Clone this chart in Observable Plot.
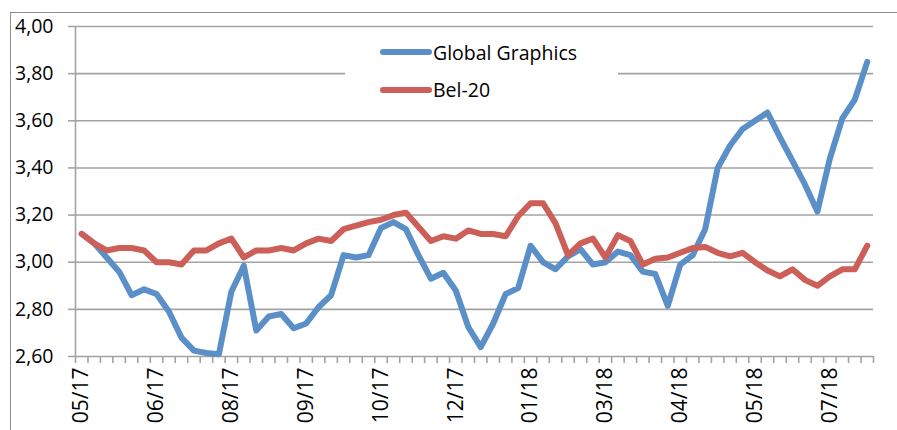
<!DOCTYPE html>
<html>
<head>
<meta charset="utf-8">
<script src="https://cdn.jsdelivr.net/npm/d3@7"></script>
<script src="https://cdn.jsdelivr.net/npm/@observablehq/plot@0.6"></script>
<style>
  body { margin: 0; background: #fff; }
  #wrap { position: relative; width: 897px; height: 430px; overflow: hidden; font-family: "Open Sans", sans-serif; }
  #border { position: absolute; left: 10px; top: 12px; width: 1000px; height: 1000px; border: 1.5px solid #8f8f8f; box-sizing: border-box; }
  #chart { position: absolute; left: 0; top: 0; }
  #legend { position: absolute; left: 345px; top: 36px; width: 273px; height: 72px; background: #fff; }
  .item { position: absolute; left: 35px; height: 24px; display: flex; align-items: center; font-size: 19.5px; color: #000; }
  .sw { width: 52px; height: 6px; border-radius: 3px; margin-right: 1px; }
</style>
</head>
<body>
<div id="wrap">
  <div id="border"></div>
  <div id="chart"></div>
  <div id="legend"></div>
</div>
<script>
const seriesNames = ["Global Graphics", "Bel-20"];
const seriesColors = ["#5a8fc8", "#cc5f58"];

const globalGraphics = [
  3.12, 3.08, 3.02, 2.96, 2.86, 2.885, 2.865, 2.79, 2.68, 2.625,
  2.615, 2.61, 2.875, 2.985, 2.71, 2.77, 2.78, 2.72, 2.74, 2.81,
  2.86, 3.03, 3.02, 3.03, 3.145, 3.17, 3.14, 3.03, 2.93, 2.955,
  2.88, 2.725, 2.64, 2.74, 2.865, 2.89, 3.07, 3.00, 2.97, 3.025,
  3.055, 2.99, 3.00, 3.045, 3.03, 2.96, 2.95, 2.815, 2.99, 3.03,
  3.14, 3.40, 3.495, 3.565, 3.60, 3.635, 3.53, 3.43, 3.33, 3.215,
  3.44, 3.61, 3.69, 3.85
];
const bel20 = [
  3.12, 3.08, 3.05, 3.06, 3.06, 3.05, 3.00, 3.00, 2.99, 3.05,
  3.05, 3.08, 3.10, 3.02, 3.05, 3.05, 3.06, 3.05, 3.08, 3.10,
  3.09, 3.14, 3.155, 3.17, 3.18, 3.20, 3.21, 3.15, 3.09, 3.11,
  3.10, 3.135, 3.12, 3.12, 3.11, 3.195, 3.25, 3.25, 3.165, 3.03,
  3.08, 3.10, 3.02, 3.115, 3.09, 2.99, 3.015, 3.02, 3.04, 3.06,
  3.065, 3.04, 3.025, 3.04, 3.00, 2.965, 2.94, 2.97, 2.925, 2.90,
  2.94, 2.97, 2.97, 3.07
];
const xLabels = ["05/17", "06/17", "08/17", "09/17", "10/17", "12/17", "01/18", "03/18", "04/18", "05/18", "07/18"];
const labelEvery = 6;
const yTicks = [2.6, 2.8, 3.0, 3.2, 3.4, 3.6, 3.8, 4.0];

const n = globalGraphics.length;
const boundaries = d3.range(n + 1);
const labelPos = xLabels.map((_, k) => k * labelEvery + 0.5);
const rows = (arr) => arr.map((v, i) => ({x: i + 0.5, y: v}));
const grid = "#a3a3a3";

const plot = Plot.plot({
  width: 897,
  height: 430,
  marginLeft: 75,
  marginRight: 24,
  marginTop: 26,
  marginBottom: 74,
  style: {fontFamily: "Open Sans, sans-serif", fontSize: "19.5px", color: "#000", background: "transparent", overflow: "visible"},
  x: {domain: [0, n], axis: null},
  y: {domain: [2.6, 4.0], axis: null},
  marks: [
    Plot.ruleY(yTicks, {stroke: grid, strokeWidth: 1.6}),
    Plot.ruleX([0], {stroke: grid, strokeWidth: 1.6}),
    Plot.axisY({ticks: yTicks, tickSize: 7, tickPadding: 15, stroke: grid, strokeWidth: 1.6, fill: "#000", label: null,
      tickFormat: d => d.toFixed(2).replace(".", ",")}),
    Plot.axisX({ticks: boundaries, tickSize: 7, stroke: grid, strokeWidth: 1.6, label: null, tickFormat: () => ""}),
    Plot.axisX({ticks: labelPos, tickSize: 0, tickPadding: 11, tickRotate: -90, fill: "#000", label: null, fontSize: 21,
      tickFormat: d => xLabels[Math.round((d - 0.5) / labelEvery)]}),
    Plot.line(rows(globalGraphics), {x: "x", y: "y", stroke: seriesColors[0], strokeWidth: 6, strokeLinecap: "round", strokeLinejoin: "round"}),
    Plot.line(rows(bel20), {x: "x", y: "y", stroke: seriesColors[1], strokeWidth: 6, strokeLinecap: "round", strokeLinejoin: "round"})
  ]
});
document.getElementById("chart").appendChild(plot);

const legend = document.getElementById("legend");
seriesNames.forEach((name, k) => {
  const item = document.createElement("div");
  item.className = "item";
  item.style.top = (4 + k * 37.5) + "px";
  const sw = document.createElement("div");
  sw.className = "sw";
  sw.style.background = seriesColors[k];
  const t = document.createElement("span");
  t.textContent = name;
  item.appendChild(sw);
  item.appendChild(t);
  legend.appendChild(item);
});
</script>
</body>
</html>
